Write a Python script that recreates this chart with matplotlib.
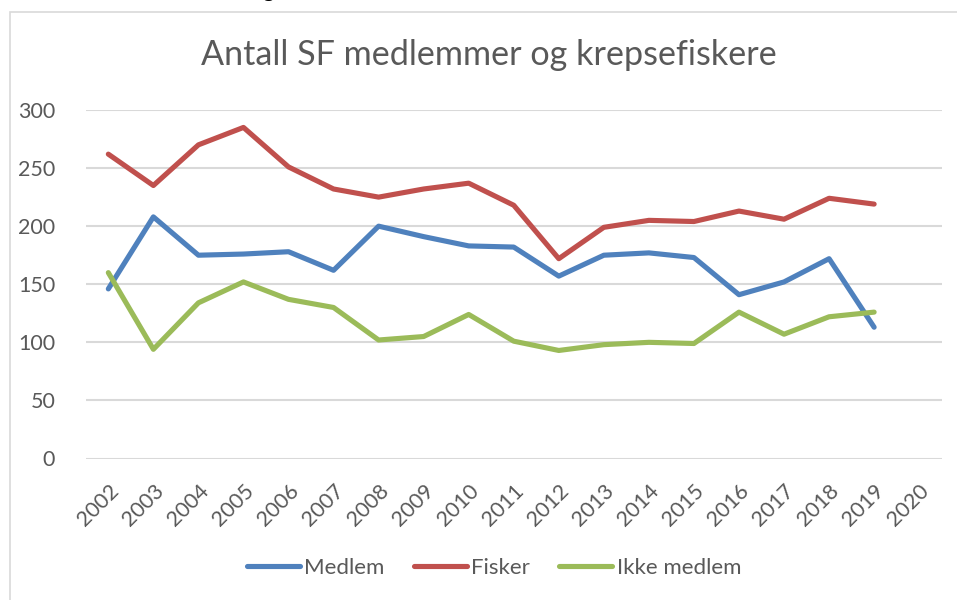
import matplotlib
matplotlib.use("Agg")
import matplotlib.pyplot as plt
from matplotlib.patches import Rectangle

plt.rcParams['font.family'] = ['Lato', 'DejaVu Sans']

years = [str(y) for y in range(2002, 2021)]
medlem = [146, 208, 175, 176, 178, 162, 200, 191, 183, 182, 157, 175, 177, 173, 141, 152, 172, 113]
fisker = [262, 235, 270, 285, 251, 232, 225, 232, 237, 218, 172, 199, 205, 204, 213, 206, 224, 219]
ikke_medlem = [160, 94, 134, 152, 137, 130, 102, 105, 124, 101, 93, 98, 100, 99, 126, 107, 122, 126]
series_names = ["Medlem", "Fisker", "Ikke medlem"]
yticks = [0, 50, 100, 150, 200, 250, 300]
title = "Antall SF medlemmer og krepsefiskere"

colors = ["#4F81BD", "#C0504D", "#9BBB59"]
text_color = "#595959"
grid_color = "#D9D9D9"

W, H = 957, 600
fig = plt.figure(figsize=(W / 100, H / 100), dpi=100)

# chart border (cropped on right and bottom)
fig.patches.append(Rectangle((10 / W, -0.1), 1.2, 1 - 11.7 / H + 0.1,
                             transform=fig.transFigure, fill=False,
                             edgecolor=grid_color, linewidth=1.2))
# cut-off text at the very top (as in the reference)
fig.text(268 / W, 1 + 3 / H, "g", fontsize=16, color="black", ha="center", va="baseline")

left, right = 85.8 / W, 941.7 / W
bottom, top = 1 - 458.5 / H, 1 - 110 / H
ax = fig.add_axes([left, bottom, right - left, top - bottom])

x = list(range(len(years)))
for vals, name, c in zip([medlem, fisker, ikke_medlem], series_names, colors):
    ax.plot(x[:len(vals)], vals, color=c, linewidth=3.7, label=name,
            solid_capstyle="round", solid_joinstyle="round")

ax.set_xlim(-0.5, len(years) - 0.5)
ax.set_ylim(0, 300)
ax.set_yticks(yticks)
ax.set_yticklabels([str(v) for v in yticks])
ax.set_xticks(x)
ax.set_xticklabels(years, rotation=45, ha="right", va="top", rotation_mode="anchor")
ax.tick_params(axis="both", length=0, labelsize=15.5, labelcolor=text_color)
ax.tick_params(axis="y", pad=22)
ax.tick_params(axis="x", pad=16)
ax.yaxis.grid(True, color=grid_color, linewidth=1.5)
ax.set_axisbelow(True)
for s in ax.spines.values():
    s.set_visible(False)

fig.text(489 / W, 1 - 65 / H, title, fontsize=24.6, color=text_color, ha="center", va="baseline")

leg = fig.legend(loc="center", bbox_to_anchor=(494 / W, 1 - 568 / H), ncol=3, frameon=False,
                 fontsize=16, handlelength=2.4, handletextpad=0.2, columnspacing=1.3)
for t in leg.get_texts():
    t.set_color(text_color)
for l in leg.get_lines():
    l.set_linewidth(3.7)

fig.savefig("out.png", dpi=100)
